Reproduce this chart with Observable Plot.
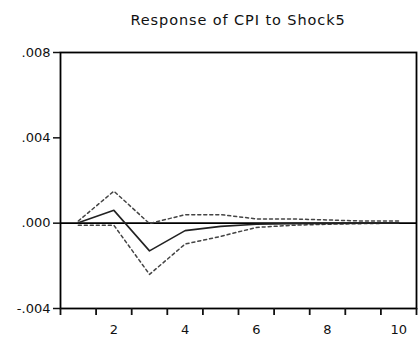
<!DOCTYPE html>
<html>
<head>
<meta charset="utf-8">
<script src="https://cdn.jsdelivr.net/npm/d3@7"></script>
<script src="https://cdn.jsdelivr.net/npm/@observablehq/plot@0.6"></script>
<style>
  html, body { margin: 0; padding: 0; background: #fff; }
  #title { height: 40px; box-sizing: border-box; padding: 12px 2px 0 60px; text-align: center;
    font-family: "DejaVu Sans", sans-serif; font-size: 14.5px; letter-spacing: 0.9px; color: #111; }
  svg { display: block; }
</style>
</head>
<body>
<div id="title">Response of CPI to Shock5</div>
<div id="chart"></div>
<script>
const periods  = [1, 2, 3, 4, 5, 6, 7, 8, 9, 10];
const response = [0.00002, 0.0006, -0.0013, -0.00035, -0.00015, -0.00005, -0.00002, -0.00001, 0, 0];
const upper    = [0.0001, 0.0015, -0.00002, 0.0004, 0.0004, 0.0002, 0.0002, 0.00015, 0.0001, 0.0001];
const lower    = [-0.0001, -0.0001, -0.0024, -0.00098, -0.00062, -0.0002, -0.0001, -0.00005, -0.00002, 0];
const yTicks   = [-0.004, 0, 0.004, 0.008];
const yTickLabels = ["-.004", ".000", ".004", ".008"];
const xTickMarks = [0.5, 1.5, 2.5, 3.5, 4.5, 5.5, 6.5, 7.5, 8.5, 9.5, 10.5];
const xLabels  = [2, 4, 6, 8, 10];

const rows = periods.map((p, i) => ({p, r: response[i], u: upper[i], l: lower[i]}));

const chart = Plot.plot({
  width: 418,
  height: 299,
  marginLeft: 60,
  marginRight: 2,
  marginTop: 12,
  marginBottom: 31,
  style: {fontFamily: "'DejaVu Sans', sans-serif", fontSize: "13px", color: "#111", background: "#fff"},
  x: {domain: [0.5, 10.5]},
  y: {domain: [-0.004, 0.008]},
  marks: [
    Plot.ruleY([0], {stroke: "#000", strokeWidth: 1.6}),
    Plot.line(rows, {x: "p", y: "u", stroke: "#444", strokeWidth: 1.5, strokeDasharray: "3,3"}),
    Plot.line(rows, {x: "p", y: "l", stroke: "#444", strokeWidth: 1.5, strokeDasharray: "3,3"}),
    Plot.line(rows, {x: "p", y: "r", stroke: "#222", strokeWidth: 1.6}),
    Plot.frame({stroke: "#000", strokeWidth: 1.8}),
    Plot.axisY({ticks: yTicks, tickFormat: (d) => yTickLabels[yTicks.indexOf(d)], tickSize: 7, tickPadding: 3, label: null, strokeWidth: 1.5}),
    Plot.axisX({ticks: xTickMarks, tickFormat: () => "", tickSize: 7, label: null, strokeWidth: 1.8}),
    Plot.axisX({ticks: xLabels, tickFormat: d => String(d), tickSize: 0, tickPadding: 16, label: null})
  ]
});
document.getElementById("chart").appendChild(chart);
</script>
</body>
</html>
